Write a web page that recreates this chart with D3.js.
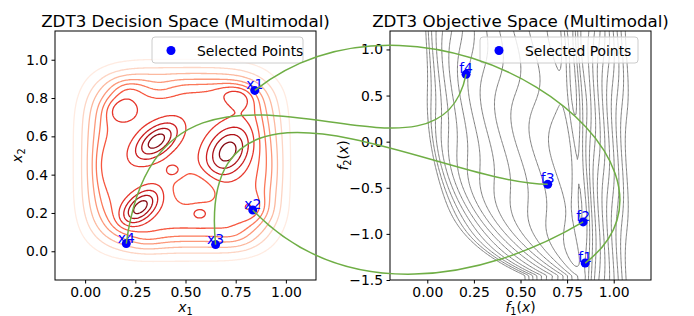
<!DOCTYPE html>
<html><head><meta charset="utf-8">
<script src="https://cdn.jsdelivr.net/npm/d3@7"></script>
<style>body{margin:0;background:#fff}svg{display:block}text{font-family:"DejaVu Sans",sans-serif}</style>
</head><body><svg id="c" width="694" height="316"></svg>
<script>
// ---------------- data ----------------
const decisionLabels = ["x1", "x2", "x3", "x4"];
const decisionX1 = [0.845, 0.835, 0.650, 0.205];
const decisionX2 = [0.840, 0.215, 0.035, 0.040];
const objectiveLabels = ["f1", "f2", "f3", "f4"];
const objectiveF1 = [0.847, 0.836, 0.646, 0.208];
const objectiveF2 = [-1.316, -0.870, -0.463, 0.730];
const xTicksLeft = [0, 0.25, 0.5, 0.75, 1.0];
const yTicksLeft = [0, 0.2, 0.4, 0.6, 0.8, 1.0];
const xTicksRight = [0, 0.25, 0.5, 0.75, 1.0];
const yTicksRight = [-1.5, -1.0, -0.5, 0, 0.5, 1.0];
// density mixture (decision space)
const kdeCx = [0.355, 0.275, 0.71, 0.18, 0.80, 0.85, 0.44, 0.57, 0.55, 0.37, 0.20, 0.75, 0.30, 0.75, 0.93, 0.07];
const kdeCy = [0.575, 0.23, 0.52, 0.74, 0.80, 0.22, 0.42, 0.20, 0.33, 0.86, 0.86, 0.84, 0.05, 0.06, 0.45, 0.45];
const kdeSx = [0.09, 0.08, 0.10, 0.06, 0.07, 0.06, 0.035, 0.035, 0.08, 0.06, 0.06, 0.07, 0.07, 0.07, 0.04, 0.04];
const kdeSy = [0.05, 0.045, 0.07, 0.05, 0.05, 0.05, 0.03, 0.03, 0.06, 0.04, 0.04, 0.04, 0.04, 0.04, 0.12, 0.10];
const kdeAng = [40, 45, 60, 0, 0, 0, 0, 0, 0, 0, 0, 0, 0, 0, 0, 0];
const kdeW = [0.38, 0.38, 0.38, 0.15, 0.12, 0.12, 0.1, 0.1, -0.15, -0.1, 0.1, 0.1, 0.1, 0.08, 0.1, 0.1];
const kdeBase = 0.8;
const kdeLevels = [0.04, 0.16, 0.32, 0.5, 0.64, 0.76, 0.86, 0.95, 1.04, 1.13];
// objective landscape levels
const objLevels = d3.range(0.52, 1.075, 0.025);
// ---------------- layout / style ----------------
const svg = d3.select("#c");
const L = {x0: 55, x1: 316, y0: 31, y1: 280};
const R = {x0: 390, x1: 651, y0: 31, y1: 280};
const green = "#6fae45", blue = "#0000ff";
const fs = 13.9;
const handles = [[[175,-136],[135,-103]], [[92,95],[-101,60]], [[-21,-210],[-106,0]], [[35,-260],[-30,150]]];

const xl = d3.scaleLinear().domain([-0.15, 1.15]).range([L.x0, L.x1]);
const yl = d3.scaleLinear().domain([-0.15, 1.15]).range([L.y1, L.y0]);
const xr = d3.scaleLinear().domain([-0.2, 1.2]).range([R.x0, R.x1]);
const yr = d3.scaleLinear().domain([-1.5, 1.2]).range([R.y1, R.y0]);

const defs = svg.append("defs");
function clip(id, x, y, w, h) {
  defs.append("clipPath").attr("id", id).append("rect").attr("x", x).attr("y", y).attr("width", w).attr("height", h);
}
clip("cl", L.x0, L.y0, L.x1 - L.x0, L.y1 - L.y0);
clip("cr", R.x0, R.y0, R.x1 - R.x0, R.y1 - R.y0);
clip("ct", 0, 0, 669, 316);

function erf(x){const t=1/(1+0.3275911*Math.abs(x));const y=1-(((((1.061405429*t-1.453152027)*t)+1.421413741)*t-0.284496736)*t+0.254829592)*t*Math.exp(-x*x);return x>=0?y:-y;}
const Phi = z => 0.5 * (1 + erf(z / Math.SQRT2));

function density(x, y) {
  // rounded-square plateau
  const r = Math.pow(Math.pow(Math.abs(x - 0.48) / 0.45, 4) + Math.pow(Math.abs(y - 0.475) / 0.44, 4), 0.25);
  let v = kdeBase * Phi((1 - r) / 0.12);
  for (let k = 0; k < kdeCx.length; k++) {
    const a = kdeAng[k] * Math.PI / 180;
    const dx = x - kdeCx[k], dy = y - kdeCy[k];
    const u = dx * Math.cos(a) + dy * Math.sin(a), w = -dx * Math.sin(a) + dy * Math.cos(a);
    v += kdeW[k] * Math.exp(-0.5 * (u*u/(kdeSx[k]*kdeSx[k]) + w*w/(kdeSy[k]*kdeSy[k])));
  }
  return v;
}
// objective landscape: lines fan out from the lower right towards the upper left
function landscape(x, y) {
  const P = 0.86, A = 0.93, lam = 0.2;
  const phi = 1 - Math.exp(-Math.max(0, y + 1.45) / 0.5);
  const d = P - x;
  let db;
  if (d <= 0) db = d;
  else {
    const f = t => (1 - phi) * t + phi * A * Math.tanh(t / lam);
    let lo = 0, hi = 3;
    if (f(hi) < d) db = hi;
    else { for (let k = 0; k < 40; k++) { const mid = (lo + hi) / 2; if (f(mid) < d) lo = mid; else hi = mid; } db = (lo + hi) / 2; }
  }
  const xb = P - db;
  const c = 0.845 - 0.03 * Math.max(0, y + 1.37);
  const D = 0.035 + 0.02 * (y + 1.5);
  const T = D * Math.exp(-Math.pow((x - c) / 0.04, 2));
  return xb + 0.008 * Math.sin(2 * Math.PI * (4 * xb + 0.8 * y)) - T;
}

function drawContours(g, fn, xs, ys, dom, levels, colorFn, width) {
  const n = 240, m = 240;
  const dx = (dom[1] - dom[0]) / (n - 1), dy = (dom[3] - dom[2]) / (m - 1);
  const vals = new Array(n * m);
  for (let j = 0; j < m; j++) for (let i = 0; i < n; i++)
    vals[i + j * n] = fn(dom[0] + i * dx, dom[2] + j * dy);
  const proj = d3.geoTransform({point: function(px, py) {
    this.stream.point(xs(dom[0] + (px - 0.5) * dx), ys(dom[2] + (py - 0.5) * dy));
  }});
  const path = d3.geoPath(proj);
  const cs = d3.contours().size([n, m]).thresholds(levels)(vals);
  g.selectAll("path.ct").data(cs).join("path").attr("class", "ct")
    .attr("d", path).attr("fill", "none")
    .attr("stroke", (d, i) => colorFn(d.value, i)).attr("stroke-width", width);
}

// left contours
const gl = svg.append("g").attr("clip-path", "url(#cl)");
drawContours(gl, density, xl, yl, [-0.2, 1.2, -0.2, 1.2], kdeLevels,
  (v, i) => d3.interpolateReds(0.06 + 0.88 * i / (kdeLevels.length - 1)), 1.3);
// right contours
const gr = svg.append("g").attr("clip-path", "url(#cr)");
drawContours(gr, landscape, xr, yr, [-0.4, 1.4, -1.8, 1.5], objLevels, () => "#808080", 1);

// axes
function axes(A, xs, ys, xt, yt, xfmt, yfmt) {
  const g = svg.append("g");
  g.append("g").attr("transform", `translate(0,${A.y1})`)
    .call(d3.axisBottom(xs).tickValues(xt).tickFormat(xfmt).tickSize(3.5).tickPadding(3.5))
    .call(s => s.select(".domain").remove());
  g.append("g").attr("transform", `translate(${A.x0},0)`)
    .call(d3.axisLeft(ys).tickValues(yt).tickFormat(yfmt).tickSize(3.5).tickPadding(3.5))
    .call(s => s.select(".domain").remove());
  g.selectAll(".tick text").attr("font-size", fs).attr("font-family", "DejaVu Sans").attr("fill", "#000");
  g.selectAll(".tick line").attr("stroke", "#000").attr("stroke-width", 1);
  g.append("rect").attr("x", A.x0).attr("y", A.y0).attr("width", A.x1 - A.x0).attr("height", A.y1 - A.y0)
    .attr("fill", "none").attr("stroke", "#000").attr("stroke-width", 1);
}
const minus = s => s.replace("-", "\u2212");
axes(L, xl, yl, xTicksLeft, yTicksLeft, d3.format(".2f"), d3.format(".1f"));
axes(R, xr, yr, xTicksRight, yTicksRight, d3.format(".2f"), v => minus(d3.format(".1f")(v)));

// titles
svg.append("text").attr("x", (L.x0 + L.x1) / 2).attr("y", 27).attr("text-anchor", "middle").attr("font-size", 16.7).text("ZDT3 Decision Space (Multimodal)");
svg.append("text").attr("clip-path", "url(#ct)").attr("x", (R.x0 + R.x1) / 2).attr("y", 27).attr("text-anchor", "middle").attr("font-size", 16.7).text("ZDT3 Objective Space (Multimodal)");

// axis labels (math italic with subscript)
function mathLabel(x, y, base, sub, tail, rot) {
  const t = svg.append("text").attr("font-size", fs).attr("text-anchor", "middle")
    .attr("transform", `translate(${x},${y}) rotate(${rot})`);
  t.append("tspan").attr("font-style", "italic").text(base);
  t.append("tspan").attr("font-size", fs * 0.7).attr("dy", 3).text(sub);
  if (tail) {
    t.append("tspan").attr("dy", -3).text("(");
    t.append("tspan").attr("font-style", "italic").text("x");
    t.append("tspan").text(")");
  }
}
mathLabel((L.x0 + L.x1) / 2, 312, "x", "1", false, 0);
mathLabel(22, (L.y0 + L.y1) / 2, "x", "2", false, -90);
mathLabel((R.x0 + R.x1) / 2, 312, "f", "1", true, 0);
mathLabel(348, (R.y0 + R.y1) / 2, "f", "2", true, -90);

// legends
function legend(A, w) {
  const g = svg.append("g");
  const x = A.x1 - 13 - w, y = A.y0 + 6;
  g.append("rect").attr("x", x).attr("y", y).attr("width", w).attr("height", 26).attr("rx", 3)
    .attr("fill", "#fff").attr("fill-opacity", 0.8).attr("stroke", "#cccccc").attr("stroke-width", 1);
  g.append("circle").attr("cx", x + 19).attr("cy", y + 13.5).attr("r", 4.5).attr("fill", blue);
  g.append("text").attr("x", x + 45).attr("y", y + 18.5).attr("font-size", fs).text("Selected Points");
}
legend(L, 151);
legend(R, 158);

// points and labels
function points(xs, ys, X, Y, labels) {
  const g = svg.append("g");
  g.selectAll("circle").data(labels).join("circle")
    .attr("cx", (d, i) => xs(X[i])).attr("cy", (d, i) => ys(Y[i])).attr("r", 4.5).attr("fill", blue);
  g.selectAll("text").data(labels).join("text")
    .attr("x", (d, i) => xs(X[i])).attr("y", (d, i) => ys(Y[i]) - 1).attr("text-anchor", "middle")
    .attr("font-size", fs).attr("fill", blue).text(d => d);
}
points(xl, yl, decisionX1, decisionX2, decisionLabels);
points(xr, yr, objectiveF1, objectiveF2, objectiveLabels);

// connectors (cubic curves from each decision point to its objective point)
const cg = svg.append("g");
decisionLabels.forEach((d, i) => {
  const p0 = [xl(decisionX1[i]), yl(decisionX2[i])];
  const p3 = [xr(objectiveF1[i]), yr(objectiveF2[i])];
  const h = handles[i];
  const p = d3.path();
  p.moveTo(p0[0], p0[1]);
  p.bezierCurveTo(p0[0] + h[0][0], p0[1] + h[0][1], p3[0] + h[1][0], p3[1] + h[1][1], p3[0], p3[1]);
  cg.append("path").attr("d", p.toString()).attr("fill", "none").attr("stroke", green).attr("stroke-width", 1.5);
});
</script></body></html>
